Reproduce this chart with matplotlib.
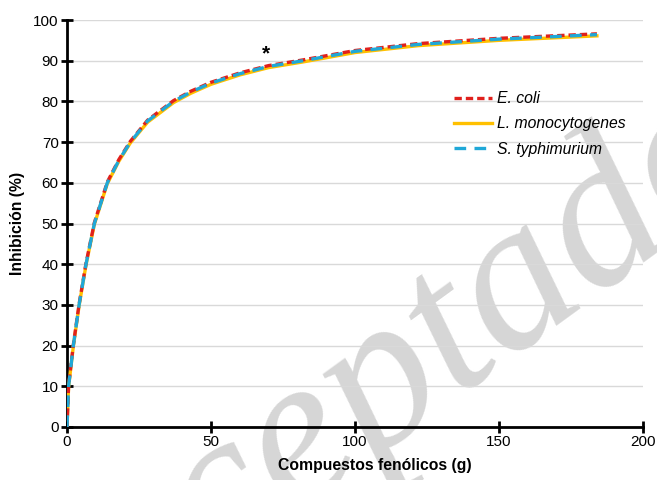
import matplotlib.pyplot as plt

plt.rcParams['font.family'] = ['Liberation Sans', 'DejaVu Sans']

# valores
x_vals = [0, 0.55, 2.2, 4.2, 6.6, 9.5, 14, 18, 22, 28, 37, 43, 50, 60, 70, 82, 100, 122, 150, 184]
ecoli = [0, 10.2, 20.2, 30.2, 40.2, 50.2, 60.2, 65.7, 70.2, 75.4, 80.2, 82.5, 84.7, 87.0, 88.8, 90.2, 92.5, 94.2, 95.5, 96.6]
lmono = [0, 9.8, 19.8, 29.8, 39.8, 49.8, 59.8, 65.3, 69.8, 74.9, 79.7, 82.0, 84.2, 86.5, 88.3, 89.7, 92.0, 93.7, 95.0, 96.1]
styph = [0, 10, 20, 30, 40, 50, 60, 65.5, 70, 75.2, 80, 82.3, 84.5, 86.8, 88.6, 90, 92.3, 94, 95.3, 96.4]

fig = plt.figure(figsize=(6.57, 4.8), dpi=100)
ax = fig.add_axes([67 / 657, 1 - 427 / 480, 576 / 657, 407 / 480])
ax.patch.set_alpha(0)

ax.plot(x_vals, lmono, color='#ffc000', lw=2.4, label='L. monocytogenes', zorder=3)
ax.plot(x_vals, ecoli, color='#e0201c', lw=2.4, ls=(0, (2.2, 1.2)), label='E. coli', zorder=4)
ax.plot(x_vals, styph, color='#1fa8d8', lw=2.4, ls=(0, (3.5, 2.5)), label='S. typhimurium', zorder=5)

ax.text(69, 91.6, '*', fontsize=15, fontweight='bold', ha='center', va='center')

ax.set_xlim(0, 200)
ax.set_ylim(0, 100)
ax.set_xticks([0, 50, 100, 150, 200])
ax.set_yticks(range(0, 101, 10))
ax.grid(axis='y', color='#d9d9d9', lw=1)
ax.set_axisbelow(True)
for s in ['top', 'right']:
    ax.spines[s].set_visible(False)
for s in ['left', 'bottom']:
    ax.spines[s].set_linewidth(2)
ax.tick_params(direction='inout', length=8, width=2, labelsize=11, pad=2)
ax.set_xlabel('Compuestos fenólicos (g)', fontsize=11.3, fontweight='bold', labelpad=3)
ax.xaxis.set_label_coords(0.534, -0.075)
ax.set_ylabel('Inhibición (%)', fontsize=11.3, fontweight='bold', labelpad=6)

h, l = ax.get_legend_handles_labels()
order = [1, 0, 2]
leg = ax.legend([h[i] for i in order], [l[i] for i in order], loc='upper left',
                bbox_to_anchor=(0.648, 0.86), frameon=False, fontsize=11.3,
                handlelength=2.4, handletextpad=0.3, labelspacing=0.65)
for t in leg.get_texts():
    t.set_fontstyle('italic')

# marca de agua
fig.text(0.625, 0.215, 'Aceptado', fontsize=155, family='Liberation Serif', style='italic',
         color='#d6d6d6', rotation=36, ha='center', va='center', zorder=-1)

fig.savefig('out.png', dpi=100)
